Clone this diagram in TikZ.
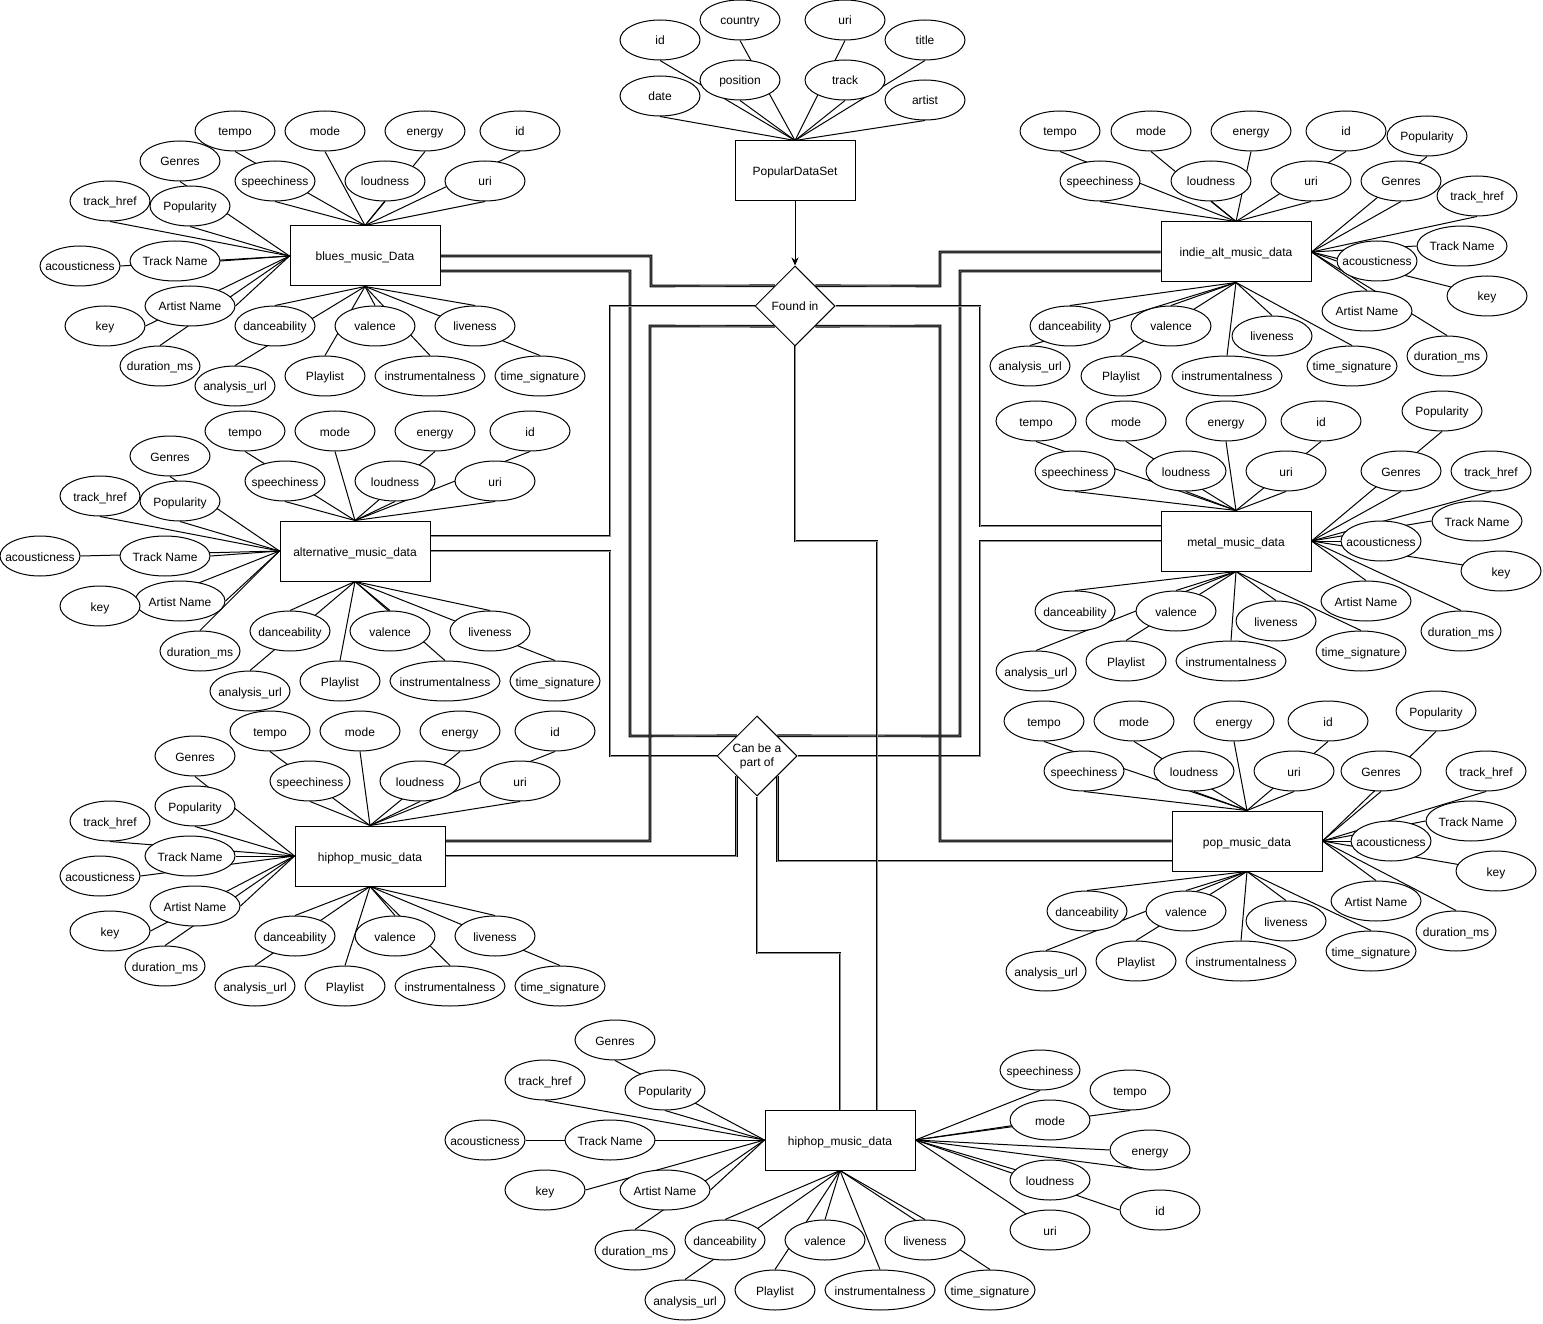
\documentclass[tikz,border=0pt]{standalone}
\usepackage{fontspec}
\setmainfont{Liberation Sans}
\usetikzlibrary{shapes.geometric,calc,backgrounds,arrows.meta}
\newcommand\attrgroup[3]{%
  \foreach \n/\l/\x/\y/\w/\e/\t in #3 {\node[attr,\w] (#1\n) at (\x,\y) {\makebox[0pt]{\l}};}
  \begin{pgfonlayer}{background}
  \foreach \n/\l/\x/\y/\w/\e/\t in #3 {\draw[link] (#1\n.\e) -- (#2.\t);}
  \end{pgfonlayer}}
\def\Lt{id/id/660/40/w80/south/north, country/country/740/20/w80/south/north, position/position/740/80/w80/south/north, date/date/660/96/w80/south/north, uri/uri/845/20/w80/south/north, track/track/845/80/w80/south/north, title/title/925/40/w80/south/north, artist/artist/925/100/w80/south/north}
\def\Lb{tempo/tempo/235/131/w80/south/north, mode/mode/325/131/w80/south/north, energy/energy/425/131/w80/south/north, id/id/520/131/w80/south/north, speech/speechiness/275/181/w80/south/north, loud/loudness/385/181/w80/south/north, uri/uri/485/181/w80/south/north, genres/Genres/180/161/w80/south/west, href/track\_href/110/201/w80/south/west, pop/Popularity/190/206/w80/south/west, acou/acousticness/80/266/w80/east/west, tname/Track Name/175/261/w90/east/west, aname/Artist Name/190/306/w90/east/west, key/key/105/326/w80/east/west, dur/duration\_ms/160/366/w80/north/west, dance/danceability/275/326/w80/north/south, val/valence/375/326/w80/north/south, live/liveness/475/326/w80/north/south, anal/analysis\_url/235/386/w80/north/south, play/Playlist/325/376/w80/north/south, instr/instrumentalness/430/376/w110/north/south, tsig/time\_signature/540/376/w90/north/south}
\def\La{tempo/tempo/245/431/w80/south/north, mode/mode/335/431/w80/south/north, energy/energy/435/431/w80/south/north, id/id/530/431/w80/south/north, speech/speechiness/285/481/w80/south/north, loud/loudness/395/481/w80/south/north, uri/uri/495/481/w80/south/north, genres/Genres/170/456/w80/south/west, href/track\_href/100/496/w80/south/west, pop/Popularity/180/501/w80/south/west, acou/acousticness/40/556/w80/east/west, tname/Track Name/165/556/w90/east/west, aname/Artist Name/180/601/w90/east/west, key/key/100/606/w80/east/west, dur/duration\_ms/200/651/w80/north/west, dance/danceability/290/631/w80/north/south, val/valence/390/631/w80/north/south, live/liveness/490/631/w80/north/south, anal/analysis\_url/250/691/w80/north/south, play/Playlist/340/681/w80/north/south, instr/instrumentalness/445/681/w110/north/south, tsig/time\_signature/555/681/w90/north/south}
\def\Lh{tempo/tempo/270/731/w80/south/north, mode/mode/360/731/w80/south/north, energy/energy/460/731/w80/south/north, id/id/555/731/w80/south/north, speech/speechiness/310/781/w80/south/north, loud/loudness/420/781/w80/south/north, uri/uri/520/781/w80/south/north, genres/Genres/195/756/w80/south/west, pop/Popularity/195/806/w80/south/west, href/track\_href/110/821/w80/south/west, tname/Track Name/190/856/w90/east/west, acou/acousticness/100/876/w80/east/west, aname/Artist Name/195/906/w90/east/west, key/key/110/931/w80/east/west, dur/duration\_ms/165/966/w80/north/west, dance/danceability/295/936/w80/north/south, val/valence/395/936/w80/north/south, live/liveness/495/936/w80/north/south, anal/analysis\_url/255/986/w80/north/south, play/Playlist/345/986/w80/north/south, instr/instrumentalness/450/986/w110/north/south, tsig/time\_signature/560/986/w90/north/south}
\def\Li{tempo/tempo/1060/131/w80/south/north, mode/mode/1151/131/w80/south/north, energy/energy/1251/131/w80/south/north, id/id/1346/131/w80/south/north, speech/speechiness/1100/181/w80/south/north, loud/loudness/1211/181/w80/south/north, uri/uri/1311/181/w80/south/north, pop/Popularity/1427/136/w80/south/east, genres/Genres/1401/181/w80/south/east, href/track\_href/1477/196/w80/south/east, tname/Track Name/1462/246/w90/west/east, acou/acousticness/1377/261/w80/west/east, key/key/1487/296/w80/center/east, aname/Artist Name/1367/311/w90/north/east, dur/duration\_ms/1447/356/w80/north/east, dance/danceability/1070/326/w80/north/south, val/valence/1171/326/w80/north/south, live/liveness/1272/336/w80/north/south, anal/analysis\_url/1030/366/w80/north/south, play/Playlist/1121/376/w80/north/south, instr/instrumentalness/1227/376/w110/north/south, tsig/time\_signature/1352/366/w90/north/south}
\def\Lm{tempo/tempo/1036/421/w80/south/north, mode/mode/1126/421/w80/south/north, energy/energy/1226/421/w80/south/north, id/id/1321/421/w80/south/north, speech/speechiness/1075/471/w80/south/north, loud/loudness/1186/471/w80/south/north, uri/uri/1286/471/w80/south/north, pop/Popularity/1442/411/w80/south/east, genres/Genres/1401/471/w80/south/east, href/track\_href/1491/471/w80/south/east, tname/Track Name/1477/521/w90/west/east, acou/acousticness/1381/541/w80/west/east, key/key/1501/571/w80/center/east, aname/Artist Name/1366/601/w90/north/east, dur/duration\_ms/1461/631/w80/north/east, dance/danceability/1075/611/w80/north/south, val/valence/1176/611/w80/north/south, live/liveness/1276/621/w80/north/south, anal/analysis\_url/1036/671/w80/north/south, play/Playlist/1126/661/w80/north/south, instr/instrumentalness/1231/661/w110/north/south, tsig/time\_signature/1361/651/w90/north/south}
\def\Lp{tempo/tempo/1044/721/w80/south/north, mode/mode/1134/721/w80/south/north, energy/energy/1234/721/w80/south/north, id/id/1328/721/w80/south/north, speech/speechiness/1084/771/w80/south/north, loud/loudness/1194/771/w80/south/north, uri/uri/1294/771/w80/south/north, pop/Popularity/1436/711/w80/south/east, genres/Genres/1381/771/w80/south/east, href/track\_href/1486/771/w80/south/east, tname/Track Name/1471/821/w90/west/east, acou/acousticness/1391/841/w80/west/east, key/key/1496/871/w80/center/east, aname/Artist Name/1376/901/w90/north/east, dur/duration\_ms/1456/931/w80/north/east, dance/danceability/1087/911/w80/north/south, val/valence/1186/911/w80/north/south, live/liveness/1286/921/w80/north/south, anal/analysis\_url/1046/971/w80/north/south, play/Playlist/1136/961/w80/north/south, instr/instrumentalness/1241/961/w110/north/south, tsig/time\_signature/1371/951/w90/north/south}
\def\Lg{genres/Genres/615/1040/w80/south/west, href/track\_href/545/1080/w80/south/west, pop/Popularity/665/1090/w80/south/west, acou/acousticness/485/1140/w80/east/west, tname/Track Name/610/1140/w90/east/west, key/key/545/1190/w80/east/west, aname/Artist Name/665/1190/w90/east/west, dur/duration\_ms/635/1250/w80/north/west, dance/danceability/725/1240/w80/north/south, val/valence/825/1240/w80/north/south, live/liveness/925/1240/w80/north/south, anal/analysis\_url/685/1300/w80/north/south, play/Playlist/775/1290/w80/north/south, instr/instrumentalness/880/1290/w110/north/south, tsig/time\_signature/990/1290/w90/north/south, speech/speechiness/1040/1070/w80/south/east, tempo/tempo/1130/1090/w80/south/east, mode/mode/1050/1120/w80/center/east, energy/energy/1150/1150/w80/west/east, loud/loudness/1050/1180/w80/center/east, id/id/1160/1210/w80/west/east, uri/uri/1050/1230/w80/center/east}
\begin{document}
\begin{tikzpicture}[x=1pt,y=-1pt,
  lbl/.style={font=\fontsize{12}{14}\selectfont},
  fixed/.style={text height=10pt,text depth=0pt},
  attr/.style={lbl,fixed,ellipse,draw,fill=white,line width=1pt,minimum height=40pt,inner sep=0pt},
  w80/.style={minimum width=80pt},
  w90/.style={minimum width=90pt},
  w110/.style={minimum width=110pt},
  ent/.style={lbl,fixed,rectangle,draw,fill=white,line width=1pt,minimum width=150pt,minimum height=60pt,inner sep=0pt},
  rel/.style={lbl,diamond,draw,fill=white,line width=1pt,minimum width=80pt,minimum height=80pt,inner sep=0pt,align=center},
  link/.style={line width=1pt},
  conn/.style={line width=0.9pt,double=black!45,double distance=0.8pt}]
\begin{pgfonlayer}{background}
\fill[white] (0,0) rectangle (1543,1324);
\end{pgfonlayer}
\useasboundingbox (0,0) rectangle (1543,1324);
% entities and relations
\node[ent,minimum width=120pt] (pds) at (795,171) {PopularDataSet};
\node[ent] (b) at (365,256) {blues\_music\_Data};
\node[ent] (i) at (1236,252) {indie\_alt\_music\_data};
\node[ent] (a) at (355,551) {alternative\_music\_data};
\node[ent] (m) at (1236,541) {metal\_music\_data};
\node[ent] (hl) at (370,856) {hiphop\_music\_data};
\node[ent] (p) at (1247,841) {pop\_music\_data};
\node[ent] (hb) at (840,1140) {hiphop\_music\_data};
\node[rel] (F) at (795,306) {Found in};
\node[rel] (C) at (757,756) {Can be a\\part of};
% attributes
\attrgroup{t}{pds}{\Lt}
\attrgroup{b}{b}{\Lb}
\attrgroup{a}{a}{\La}
\attrgroup{hl}{hl}{\Lh}
\attrgroup{i}{i}{\Li}
\attrgroup{m}{m}{\Lm}
\attrgroup{p}{p}{\Lp}
\attrgroup{hb}{hb}{\Lg}
\begin{pgfonlayer}{background}
\draw[link] (hbenergy.-135) -- (hb.east);
% relationship connectors
\draw[conn] (b.east) -| (651,286) -- ($(F.west)!.5!(F.north)$);
\draw[conn] ($(b.east)+(0,15)$) -| (630,736) -- ($(C.west)!.5!(C.north)$);
\draw[conn] (i.west) -| (940,286) -- ($(F.east)!.5!(F.north)$);
\draw[conn] ($(i.west)+(0,19)$) -| (960,736) -- ($(C.east)!.5!(C.north)$);
\draw[conn] ($(a.east)+(0,-15)$) -| (610,306) -- (F.west);
\draw[conn] (a.east) -| (610,756) -- (C.west);
\draw[conn] ($(m.west)+(0,-15)$) -| (980,306) -- (F.east);
\draw[conn] (m.west) -| (980,756) -- (C.east);
\draw[conn] ($(hl.east)+(0,-15)$) -| (650,326) -- ($(F.west)!.5!(F.south)$);
\draw[conn] (hl.east) -| ($(C.west)!.5!(C.south)$);
\draw[conn] (p.west) -| (940,326) -- ($(F.east)!.5!(F.south)$);
\draw[conn] ($(p.west)+(0,20)$) -| ($(C.east)!.5!(C.south)$);
\draw[conn] ($(hb.north)+(37,0)$) |- (795,541) -- (F.south);
\draw[conn] (hb.north) |- (757,953) -- (C.south);
\end{pgfonlayer}
\draw[line width=1pt,-{Stealth[length=8pt,width=7pt]}] (pds.south) -- (F.north);
\end{tikzpicture}
\end{document}
